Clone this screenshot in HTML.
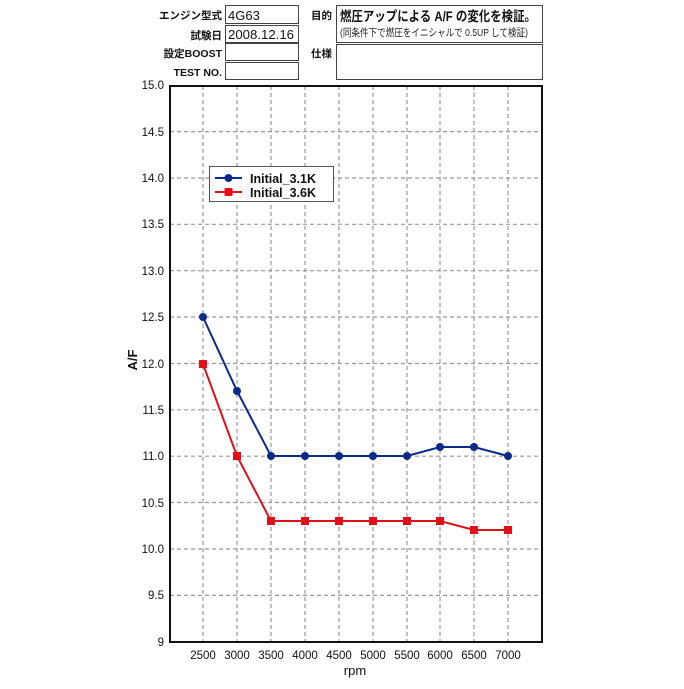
<!DOCTYPE html>
<html><head><meta charset="utf-8"><style>
body{margin:0;background:#fff;}
svg text{font-family:"Liberation Sans","Noto Sans CJK JP",sans-serif;}
</style></head><body>
<svg width="684" height="684" xmlns="http://www.w3.org/2000/svg">
<g font-size="10.5" fill="#111" text-anchor="end" font-weight="bold">
<text x="222" y="19">エンジン型式</text>
<text x="222" y="39">試験日</text>
<text x="222" y="57">設定BOOST</text>
<text x="222" y="76">TEST NO.</text>
<text x="332" y="19">目的</text>
<text x="332" y="57">仕様</text>
</g>
<g fill="none" stroke="#444" stroke-width="1">
<rect x="225.5" y="5.5" width="73" height="18"/>
<rect x="225.5" y="25.5" width="73" height="17"/>
<rect x="225.5" y="43.5" width="73" height="17"/>
<rect x="225.5" y="62.5" width="73" height="17"/>
<rect x="336.5" y="5.5" width="206" height="37"/>
<rect x="336.5" y="44.5" width="206" height="35"/>
</g>
<text x="228" y="20" font-size="13" fill="#111">4G63</text>
<text x="228" y="39" font-size="13" fill="#111" textLength="66" lengthAdjust="spacingAndGlyphs">2008.12.16</text>
<text x="340" y="21" font-size="13.5" fill="#111" font-weight="bold" textLength="196" lengthAdjust="spacingAndGlyphs">燃圧アップによる A/F の変化を検証。</text>
<text x="340" y="36" font-size="10.5" fill="#222" textLength="188" lengthAdjust="spacingAndGlyphs">(同条件下で燃圧をイニシャルで 0.5UP して検証)</text>
<g stroke="#999" stroke-width="1.2" stroke-dasharray="4,3">
<line x1="203" y1="86" x2="203" y2="641"/><line x1="237" y1="86" x2="237" y2="641"/>
<line x1="271" y1="86" x2="271" y2="641"/><line x1="305" y1="86" x2="305" y2="641"/>
<line x1="339" y1="86" x2="339" y2="641"/><line x1="373" y1="86" x2="373" y2="641"/>
<line x1="407" y1="86" x2="407" y2="641"/><line x1="440" y1="86" x2="440" y2="641"/>
<line x1="474" y1="86" x2="474" y2="641"/><line x1="508" y1="86" x2="508" y2="641"/>
<line x1="170" y1="131.6" x2="541" y2="131.6"/><line x1="170" y1="178" x2="541" y2="178"/>
<line x1="170" y1="224.3" x2="541" y2="224.3"/><line x1="170" y1="270.7" x2="541" y2="270.7"/>
<line x1="170" y1="317" x2="541" y2="317"/><line x1="170" y1="363.5" x2="541" y2="363.5"/>
<line x1="170" y1="409.8" x2="541" y2="409.8"/><line x1="170" y1="456.2" x2="541" y2="456.2"/>
<line x1="170" y1="502.5" x2="541" y2="502.5"/><line x1="170" y1="549" x2="541" y2="549"/>
<line x1="170" y1="595.4" x2="541" y2="595.4"/>
</g>
<rect x="170" y="86" width="372" height="556" fill="none" stroke="#111" stroke-width="2"/>
<g font-size="11.5" fill="#111" text-anchor="end">
<text x="164" y="89">15.0</text><text x="164" y="136">14.5</text><text x="164" y="182">14.0</text>
<text x="164" y="228">13.5</text><text x="164" y="275">13.0</text><text x="164" y="321">12.5</text>
<text x="164" y="368">12.0</text><text x="164" y="414">11.5</text><text x="164" y="460">11.0</text>
<text x="164" y="507">10.5</text><text x="164" y="553">10.0</text><text x="164" y="599">9.5</text>
<text x="164" y="646">9</text>
</g>
<g font-size="11.5" fill="#111" text-anchor="middle">
<text x="203" y="659">2500</text><text x="237" y="659">3000</text><text x="271" y="659">3500</text>
<text x="305" y="659">4000</text><text x="339" y="659">4500</text><text x="373" y="659">5000</text>
<text x="407" y="659">5500</text><text x="440" y="659">6000</text><text x="474" y="659">6500</text>
<text x="508" y="659">7000</text>
<text x="355" y="675" font-size="13">rpm</text>
</g>
<text x="0" y="0" font-size="13" font-weight="bold" fill="#111" text-anchor="middle" transform="translate(137,360) rotate(-90)">A/F</text>
<polyline fill="none" stroke="#0a2a8a" stroke-width="2" points="203,317 237,391 271,456 305,456 339,456 373,456 407,456 440,447 474,447 508,456"/>
<g fill="#0a2a8a">
<circle cx="203" cy="317" r="4"/><circle cx="237" cy="391" r="4"/><circle cx="271" cy="456" r="4"/>
<circle cx="305" cy="456" r="4"/><circle cx="339" cy="456" r="4"/><circle cx="373" cy="456" r="4"/>
<circle cx="407" cy="456" r="4"/><circle cx="440" cy="447" r="4"/><circle cx="474" cy="447" r="4"/>
<circle cx="508" cy="456" r="4"/>
</g>
<polyline fill="none" stroke="#e0101a" stroke-width="2" points="203,364 237,456 271,521 305,521 339,521 373,521 407,521 440,521 474,530 508,530"/>
<g fill="#e0101a">
<rect x="199" y="360" width="8" height="8"/><rect x="233" y="452" width="8" height="8"/>
<rect x="267" y="517" width="8" height="8"/><rect x="301" y="517" width="8" height="8"/>
<rect x="335" y="517" width="8" height="8"/><rect x="369" y="517" width="8" height="8"/>
<rect x="403" y="517" width="8" height="8"/><rect x="436" y="517" width="8" height="8"/>
<rect x="470" y="526" width="8" height="8"/><rect x="504" y="526" width="8" height="8"/>
</g>
<rect x="209.5" y="166.5" width="124" height="35" fill="#fff" stroke="#555" stroke-width="1"/>
<line x1="215" y1="178" x2="242" y2="178" stroke="#0a2a8a" stroke-width="2"/>
<circle cx="228.5" cy="178" r="4" fill="#0a2a8a"/>
<line x1="215" y1="192" x2="242" y2="192" stroke="#e0101a" stroke-width="2"/>
<rect x="224.5" y="188" width="8" height="8" fill="#e0101a"/>
<text x="250" y="183" font-size="12.5" font-weight="bold" fill="#111">Initial_3.1K</text>
<text x="250" y="197" font-size="12.5" font-weight="bold" fill="#111">Initial_3.6K</text>
</svg>
</body></html>
